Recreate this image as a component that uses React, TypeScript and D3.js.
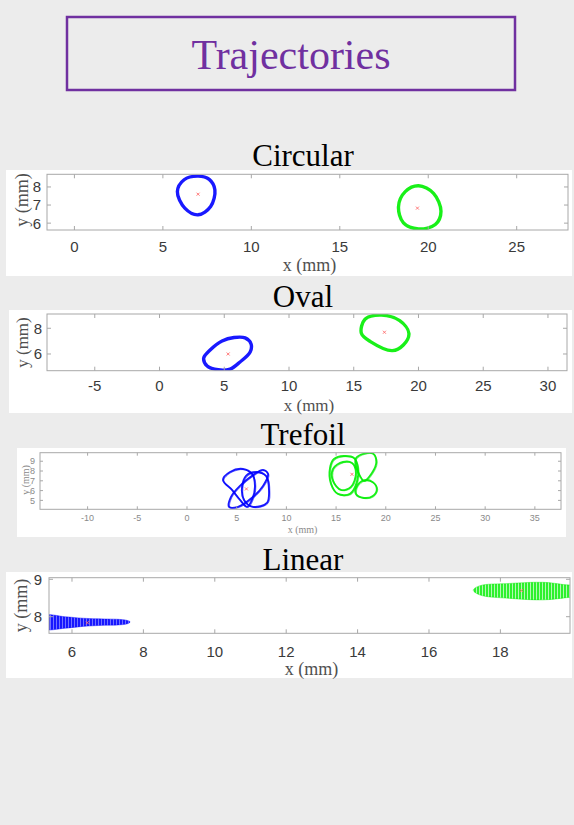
import React from 'react';
import * as d3 from 'd3';

type Pt = [number, number];

// ---------- Circular ----------
const circularXTicks = [0, 5, 10, 15, 20, 25];
const circularYTicks = [6, 7, 8];
const circularBlue: Pt[] = [[6.99, 8.60], [7.62, 8.42], [7.94, 7.84], [7.70, 6.92], [6.99, 6.46], [6.24, 6.83], [5.82, 7.74], [6.20, 8.40]];
const circularGreen: Pt[] = [[19.45, 8.07], [20.30, 7.65], [20.72, 6.65], [20.40, 5.92], [19.45, 5.68], [18.60, 6.01], [18.32, 6.92], [18.70, 7.74]];
const circularCenters: Pt[] = [[6.99, 7.60], [19.39, 6.83]];

// ---------- Oval ----------
const ovalXTicks = [-5, 0, 5, 10, 15, 20, 25, 30];
const ovalYTicks = [6, 8];
const ovalBlue: Pt[] = [[3.41, 5.67], [3.91, 6.31], [4.83, 7.01], [5.76, 7.28], [6.61, 7.25], [7.07, 6.78], [7.00, 6.16], [6.22, 5.38], [5.45, 4.83], [4.53, 4.77], [3.68, 5.07]];
const ovalGreen: Pt[] = [[17.14, 9.02], [15.87, 8.70], [15.59, 7.61], [16.29, 6.96], [17.98, 6.26], [18.83, 6.70], [19.26, 7.61], [18.55, 8.59]];
const ovalCenters: Pt[] = [[5.30, 6.00], [17.37, 7.69]];

// ---------- Trefoil ----------
const trefoilXTicks = [-10, -5, 0, 5, 10, 15, 20, 25, 30, 35];
const trefoilYTicks = [5, 6, 7, 8, 9];
const trefoilBlueMain: Pt[] = [[6.94, 7.90], [7.95, 7.50], [8.25, 6.07], [8.05, 4.75], [6.64, 4.34], [5.73, 5.05], [5.53, 6.27], [5.94, 7.50]];
const trefoilBlueLeafA: Pt[] = [[3.62, 7.09], [4.33, 7.90], [5.63, 8.21], [6.54, 7.70], [6.84, 6.48], [6.54, 5.05], [6.04, 4.34], [5.33, 5.05], [4.53, 6.07]];
const trefoilBlueLeafB: Pt[] = [[4.23, 4.34], [4.43, 5.36], [5.33, 6.48], [6.54, 7.50], [7.65, 8.11], [8.15, 7.70], [7.65, 6.48], [6.54, 5.26], [5.13, 4.34]];
const trefoilGreenBig: Pt[] = [[15.79, 9.53], [16.80, 9.33], [17.20, 8.31], [17.10, 6.89], [16.40, 5.66], [15.19, 5.66], [14.49, 6.68], [14.39, 8.31], [14.79, 9.22]];
const trefoilGreenInner: Pt[] = [[15.69, 8.92], [16.60, 8.82], [17.00, 7.80], [16.50, 6.38], [15.49, 6.07], [14.69, 6.99], [14.69, 8.21]];
const trefoilGreenUpper: Pt[] = [[17.00, 9.30], [17.81, 9.78], [18.71, 9.78], [19.05, 8.92], [18.61, 7.80], [17.81, 7.00], [17.20, 7.90], [16.95, 8.70]];
const trefoilGreenLower: Pt[] = [[17.81, 7.05], [18.70, 6.85], [19.10, 6.15], [18.70, 5.45], [17.81, 5.25], [17.00, 5.65], [17.10, 6.45]];
const trefoilCenters: Pt[] = [[5.98, 6.17], [16.60, 7.66]];

// ---------- Linear ----------
const linearXTicks = [6, 8, 10, 12, 14, 16, 18];
const linearYTicks = [8, 9];
const linearBlue: Pt[] = [[5.20, 8.03], [5.80, 8.00], [6.30, 7.96], [6.90, 7.94], [7.30, 7.93], [7.55, 7.90], [7.63, 7.86], [7.55, 7.81], [7.30, 7.78], [6.90, 7.77], [6.30, 7.74], [5.80, 7.69], [5.20, 7.68]];
const linearGreen: Pt[] = [[17.24, 8.71], [17.43, 8.83], [18.27, 8.89], [19.20, 8.92], [19.76, 8.86], [20.10, 8.80], [20.10, 8.55], [19.85, 8.51], [19.20, 8.45], [18.27, 8.49], [17.43, 8.58]];
const linearCenters: Pt[] = [[6.43, 7.84], [18.59, 8.70]];

const BLUE = '#0000ff';
const GREEN = '#00ee00';
const SERIF = '"Liberation Serif", "Times New Roman", serif';
const SANS = '"Liberation Sans", Arial, Helvetica, sans-serif';

type Loop = { pts: Pt[]; color: string; kind: 'line' | 'band' };

type Panel = {
  key: string;
  title: string;
  titleY: number;
  bg: [number, number, number, number];
  box: [number, number, number, number];
  xDomain: [number, number];
  yDomain: [number, number];
  xTicks: number[];
  yTicks: number[];
  tickFont: number;
  tickColor: string;
  tickLabelY: number;
  yTickRight: number;
  xLabelY: number;
  yLabelX: number;
  yLabelY: number;
  labelFont: number;
  labelColor: string;
  tickLen: number;
  strokeW: number;
  loops: Loop[];
  centers: Pt[];
};

const panels: Panel[] = [
  {
    key: 'circular', title: 'Circular', titleY: 166,
    bg: [6, 170, 566, 106], box: [47, 174.3, 568, 230],
    xDomain: [-1.55, 27.9], yDomain: [5.62, 8.70],
    xTicks: circularXTicks, yTicks: circularYTicks,
    tickFont: 15, tickColor: '#3a3a3a', tickLabelY: 252, yTickRight: 41,
    xLabelY: 271, yLabelX: 22, yLabelY: 200, labelFont: 18, labelColor: '#505050', tickLen: 4, strokeW: 3.4,
    loops: [{ pts: circularBlue, color: BLUE, kind: 'line' }, { pts: circularGreen, color: GREEN, kind: 'line' }],
    centers: circularCenters,
  },
  {
    key: 'oval', title: 'Oval', titleY: 306.5,
    bg: [9, 310, 563, 103], box: [47, 314, 567, 370.7],
    xDomain: [-8.69, 31.47], yDomain: [4.70, 9.11],
    xTicks: ovalXTicks, yTicks: ovalYTicks,
    tickFont: 15, tickColor: '#3a3a3a', tickLabelY: 391, yTickRight: 42,
    xLabelY: 411, yLabelX: 22, yLabelY: 342.5, labelFont: 17, labelColor: '#505050', tickLen: 4, strokeW: 3.4,
    loops: [{ pts: ovalBlue, color: BLUE, kind: 'line' }, { pts: ovalGreen, color: GREEN, kind: 'line' }],
    centers: ovalCenters,
  },
  {
    key: 'trefoil', title: 'Trefoil', titleY: 445,
    bg: [17, 448, 549, 89], box: [40, 452.7, 561, 509.3],
    xDomain: [-14.79, 37.63], yDomain: [4.09, 9.87],
    xTicks: trefoilXTicks, yTicks: trefoilYTicks,
    tickFont: 9, tickColor: '#8a8a8a', tickLabelY: 521, yTickRight: 35,
    xLabelY: 533, yLabelX: 25.5, yLabelY: 480, labelFont: 10, labelColor: '#8a8a8a', tickLen: 3, strokeW: 1.9,
    loops: [
      { pts: trefoilBlueMain, color: BLUE, kind: 'line' },
      { pts: trefoilBlueLeafA, color: BLUE, kind: 'line' },
      { pts: trefoilBlueLeafB, color: BLUE, kind: 'line' },
      { pts: trefoilGreenBig, color: GREEN, kind: 'line' },
      { pts: trefoilGreenInner, color: GREEN, kind: 'line' },
      { pts: trefoilGreenUpper, color: GREEN, kind: 'line' },
      { pts: trefoilGreenLower, color: GREEN, kind: 'line' },
    ],
    centers: trefoilCenters,
  },
  {
    key: 'linear', title: 'Linear', titleY: 570,
    bg: [6, 572, 566, 106], box: [49, 577.7, 570, 633.3],
    xDomain: [5.356, 19.95], yDomain: [7.556, 9.043],
    xTicks: linearXTicks, yTicks: linearYTicks,
    tickFont: 15, tickColor: '#3a3a3a', tickLabelY: 657, yTickRight: 42,
    xLabelY: 675, yLabelX: 21, yLabelY: 605.5, labelFont: 18, labelColor: '#505050', tickLen: 4, strokeW: 1,
    loops: [{ pts: linearBlue, color: BLUE, kind: 'band' }, { pts: linearGreen, color: GREEN, kind: 'band' }],
    centers: linearCenters,
  },
];

function PanelView({ p }: { p: Panel }) {
  const [l, t, r, b] = p.box;
  const x = d3.scaleLinear().domain(p.xDomain).range([l, r]);
  const y = d3.scaleLinear().domain(p.yDomain).range([b, t]);
  const line = d3
    .line<Pt>()
    .x((d) => x(d[0]))
    .y((d) => y(d[1]))
    .curve(d3.curveCatmullRomClosed.alpha(0.5));
  const clipId = `clip-${p.key}`;
  return (
    <g>
      <rect x={p.bg[0]} y={p.bg[1]} width={p.bg[2]} height={p.bg[3]} fill="#ffffff" />
      <text x={303} y={p.titleY} textAnchor="middle" fontFamily={SERIF} fontSize={31} fill="#000">
        {p.title}
      </text>
      <defs>
        <clipPath id={clipId}>
          <rect x={l} y={t} width={r - l} height={b - t} />
        </clipPath>
      </defs>
      <g clipPath={`url(#${clipId})`}>
        {p.loops.map((lp, i) =>
          lp.kind === 'line' ? (
            <g key={i}>
              <path d={line(lp.pts) || ''} fill="none" stroke={lp.color} strokeWidth={p.strokeW} strokeOpacity={0.9} strokeLinejoin="round" />
              {p.key === 'trefoil' && (
                <path d={line(lp.pts) || ''} fill="none" stroke={lp.color} strokeWidth={1} strokeOpacity={0.5} transform="translate(0.9,0.7)" />
              )}
            </g>
          ) : (
            <path
              key={i}
              d={line(lp.pts) || ''}
              fill={lp.color === BLUE ? 'url(#hatchBlue)' : 'url(#hatchGreen)'}
              stroke={lp.color}
              strokeOpacity={0.5}
              strokeWidth={0.8}
            />
          )
        )}
        {p.centers.map((c, i) => (
          <g key={`c${i}`} stroke="#ff6b6b" strokeWidth={0.9}>
            <line x1={x(c[0]) - 1.5} y1={y(c[1]) - 1.5} x2={x(c[0]) + 1.5} y2={y(c[1]) + 1.5} />
            <line x1={x(c[0]) - 1.5} y1={y(c[1]) + 1.5} x2={x(c[0]) + 1.5} y2={y(c[1]) - 1.5} />
          </g>
        ))}
      </g>
      <rect x={l} y={t} width={r - l} height={b - t} fill="none" stroke="#a8a8a8" strokeWidth={1} />
      {p.xTicks.map((v) => (
        <g key={`xt${v}`}>
          <line x1={x(v)} x2={x(v)} y1={b} y2={b - p.tickLen} stroke="#a8a8a8" />
          <line x1={x(v)} x2={x(v)} y1={t} y2={t + p.tickLen} stroke="#a8a8a8" />
          <text x={x(v)} y={p.tickLabelY} textAnchor="middle" fontFamily={SANS} fontSize={p.tickFont} fill={p.tickColor}>
            {v}
          </text>
        </g>
      ))}
      {p.yTicks.map((v) => (
        <g key={`yt${v}`}>
          <line x1={l} x2={l + p.tickLen} y1={y(v)} y2={y(v)} stroke="#a8a8a8" />
          <line x1={r} x2={r - p.tickLen} y1={y(v)} y2={y(v)} stroke="#a8a8a8" />
          <text x={p.yTickRight} y={y(v)} dy="0.36em" textAnchor="end" fontFamily={SANS} fontSize={p.tickFont} fill={p.tickColor}>
            {v}
          </text>
        </g>
      ))}
      <text x={(l + r) / 2 + 2} y={p.xLabelY} textAnchor="middle" fontFamily={SERIF} fontSize={p.labelFont} fill={p.labelColor}>
        x (mm)
      </text>
      <text
        transform={`translate(${p.yLabelX},${p.yLabelY}) rotate(-90)`}
        dy="0.35em"
        textAnchor="middle"
        fontFamily={SERIF}
        fontSize={p.labelFont}
        fill={p.labelColor}
      >
        y (mm)
      </text>
    </g>
  );
}

export default function App() {
  return (
    <svg
      width={574}
      height={825}
      viewBox="0 0 574 825"
      style={{ position: 'absolute', left: 0, top: 0, display: 'block', background: '#ececec' }}
    >
      <defs>
        <pattern id="hatchBlue" width={3} height={4} patternUnits="userSpaceOnUse">
          <rect width={3} height={4} fill={BLUE} fillOpacity={0.55} />
          <line x1={1} y1={0} x2={1} y2={4} stroke={BLUE} strokeWidth={1.6} />
        </pattern>
        <pattern id="hatchGreen" width={3} height={4} patternUnits="userSpaceOnUse">
          <rect width={3} height={4} fill={GREEN} fillOpacity={0.3} />
          <line x1={1} y1={0} x2={1} y2={4} stroke={GREEN} strokeWidth={1.5} />
        </pattern>
      </defs>
      <rect x={0} y={0} width={574} height={825} fill="#ececec" />
      <rect x={67} y={17} width={448} height={73} fill="none" stroke="#7030a0" strokeWidth={2.5} />
      <text x={291} y={69} textAnchor="middle" fontFamily={SERIF} fontSize={42} fill="#7030a0">
        Trajectories
      </text>
      {panels.map((p) => (
        <PanelView key={p.key} p={p} />
      ))}
    </svg>
  );
}
